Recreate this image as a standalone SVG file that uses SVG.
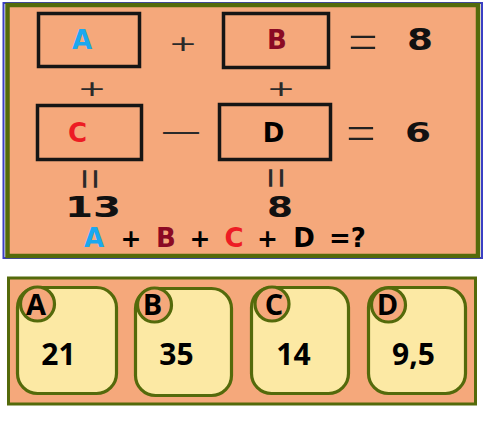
<svg xmlns="http://www.w3.org/2000/svg" width="485" height="432" viewBox="0 0 485 432">
<style>
.panel{fill:#f5a87b;stroke:#546a0b}
.box{fill:none;stroke:#151515;stroke-width:3.5}
.card{fill:#fce9a4;stroke:#546a0b;stroke-width:3.2}
.tag{fill:#f5a87b;stroke:#546a0b;stroke-width:3.2}
.big{font-family:"DejaVu Sans",sans-serif;font-weight:bold;text-anchor:middle}
.sym{font-family:Inter,"Liberation Sans",sans-serif;font-weight:300;fill:#2a2a2a;text-anchor:middle}
.eq{font-family:Inter,"Liberation Sans",sans-serif;font-weight:200;fill:#222;text-anchor:middle}
.veq{font-family:"Liberation Sans",sans-serif;fill:#2a2a2a;text-anchor:middle}
.num{font-family:"Open Sans",sans-serif;font-weight:bold;text-anchor:middle;fill:#000}
</style>
<rect width="485" height="432" fill="#ffffff"/>
<g id="top-panel">
<rect x="3.5" y="3" width="478.5" height="255" fill="none" stroke="#3b3fc4" stroke-width="2"/>
<rect class="panel" x="7.5" y="5" width="470.5" height="251" stroke-width="4.5"/>
</g>
<g id="box-A">
<rect class="box" x="38.5" y="13.5" width="101" height="53"/>
<text class="big" x="82" y="49" font-size="26" fill="#1ba8f0">A</text>
</g>
<g id="box-B">
<rect class="box" x="223.5" y="13.5" width="105" height="54"/>
<text class="big" x="277" y="49" font-size="26" fill="#8b0a24">B</text>
</g>
<g id="box-C">
<rect class="box" x="37.5" y="105.5" width="104" height="54"/>
<text class="big" x="77.5" y="142" font-size="26" fill="#ed1c24">C</text>
</g>
<g id="box-D">
<rect class="box" x="219.5" y="104.5" width="111" height="55"/>
<text class="big" x="273.5" y="142" font-size="26" fill="#000">D</text>
</g>
<g id="operators">
<text class="sym" x="183" y="53" font-size="30" textLength="31" lengthAdjust="spacingAndGlyphs">+</text>
<text class="sym" x="92" y="98" font-size="30" textLength="31" lengthAdjust="spacingAndGlyphs">+</text>
<text class="sym" x="281" y="98" font-size="30" textLength="31" lengthAdjust="spacingAndGlyphs">+</text>
<text class="eq" x="363" y="58" font-size="56" textLength="42" lengthAdjust="spacingAndGlyphs">=</text>
<text class="eq" x="361" y="149" font-size="54" textLength="42" lengthAdjust="spacingAndGlyphs">=</text>
<text class="sym" x="181" y="144" font-size="34" textLength="36" lengthAdjust="spacingAndGlyphs">—</text>
<text class="veq" transform="translate(90,179) rotate(90)" x="0" y="14" font-size="42" textLength="21" lengthAdjust="spacingAndGlyphs">=</text>
<text class="veq" transform="translate(276,178) rotate(90)" x="0" y="14" font-size="42" textLength="21" lengthAdjust="spacingAndGlyphs">=</text>
</g>
<g id="results">
<text class="big" x="420" y="50" font-size="30" fill="#111" textLength="26" lengthAdjust="spacingAndGlyphs">8</text>
<text class="big" x="418" y="142" font-size="26" fill="#111" textLength="26" lengthAdjust="spacingAndGlyphs">6</text>
<text class="big" x="93" y="217" font-size="28" fill="#111" textLength="56" lengthAdjust="spacingAndGlyphs">13</text>
<text class="big" x="280" y="217" font-size="28" fill="#111" textLength="26" lengthAdjust="spacingAndGlyphs">8</text>
</g>
<g id="question">
<text class="big" x="94" y="247" font-size="26" fill="#1ba8f0">A</text>
<text class="big" x="131" y="247" font-size="25" fill="#000">+</text>
<text class="big" x="166" y="247" font-size="26" fill="#8b0a24">B</text>
<text class="big" x="200" y="247" font-size="25" fill="#000">+</text>
<text class="big" x="234" y="247" font-size="26" fill="#ed1c24">C</text>
<text class="big" x="267.5" y="247" font-size="25" fill="#000">+</text>
<text class="big" x="304" y="247" font-size="26" fill="#000">D</text>
<text class="big" x="347.5" y="247" font-size="26" fill="#000">=?</text>
</g>
<g id="answers-panel">
<rect class="panel" x="8.5" y="278" width="467" height="126" stroke-width="3"/>
</g>
<g id="card-A">
<rect class="card" x="17.5" y="287.5" width="99" height="106" rx="20"/>
<circle class="tag" cx="37.5" cy="304" r="17"/>
<text class="num" x="36" y="315" font-size="29">A</text>
<text class="num" x="58.5" y="365" font-size="30">21</text>
</g>
<g id="card-B">
<rect class="card" x="135.5" y="288.5" width="96" height="107" rx="20"/>
<circle class="tag" cx="154.5" cy="305" r="17"/>
<text class="num" x="152.5" y="315" font-size="29">B</text>
<text class="num" x="176.5" y="365" font-size="30">35</text>
</g>
<g id="card-C">
<rect class="card" x="251.5" y="287.5" width="97" height="106" rx="20"/>
<circle class="tag" cx="272" cy="304" r="17"/>
<text class="num" x="274" y="315" font-size="29">C</text>
<text class="num" x="293.5" y="365" font-size="30">14</text>
</g>
<g id="card-D">
<rect class="card" x="368.5" y="287.5" width="97" height="106" rx="20"/>
<circle class="tag" cx="388.5" cy="305" r="17"/>
<text class="num" x="387.5" y="315" font-size="29">D</text>
<text class="num" x="413.5" y="365" font-size="30">9,5</text>
</g>
</svg>
